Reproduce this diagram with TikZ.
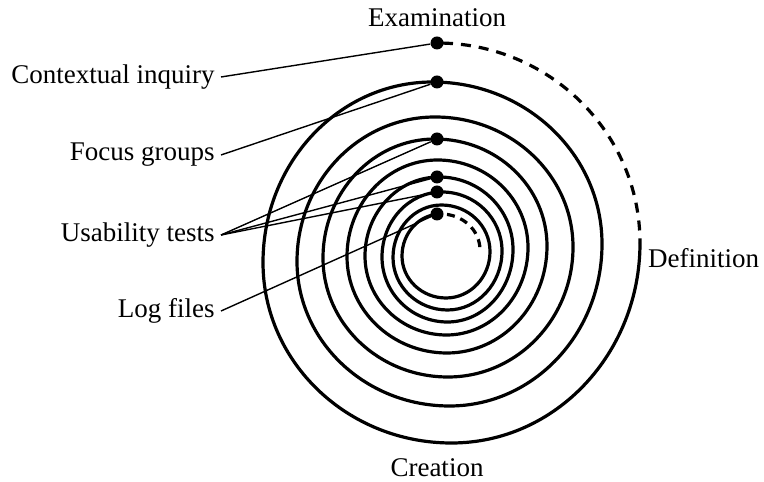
\documentclass[tikz,border=0pt]{standalone}
\usepackage{fontspec}
\setmainfont{Liberation Serif}
\usetikzlibrary{positioning}

\begin{document}
\begin{tikzpicture}[x=0.5pt, y=0.5pt, font=\fontsize{13.5}{16}\selectfont,
      ring/.style={line width=1.6pt},
      ringdash/.style={line width=1.6pt, dash pattern=on 5pt off 4pt},
      stop/.style={circle, fill=black, inner sep=0pt, minimum size=6.5pt},
      lbl/.style={anchor=east, inner sep=3pt},
      lead/.style={line width=0.7pt}
    ]
    \useasboundingbox (0,0) rectangle (764,481);

    % stops on the spiral (top of each turn)
    \node[stop] (s0) at (437,438) {};
    \node[stop] (s1) at (437,399) {};
    \node[stop] (s2) at (437,342) {};
    \node[stop] (s3) at (437,304) {};
    \node[stop] (s4) at (437,289) {};
    \node[stop] (s5) at (437,267) {};

    % outer dashed quarter, then the solid spiral inwards
    \draw[ringdash, dash phase=-3pt] (s0.center)
      arc[start angle=90, end angle=0, x radius=203, y radius=200];
    \draw[ring] (640,238)
      \foreach \ra/\rb/\rc/\rd/\re in {188.5/200/180.5/169.5/162,
          152.5/162/144.5/138/130, 125/130/119/112/107,
          100/107/96.5/90.5/87.5, 81.5/87.5/79/74/72.5,
          65.5/72.5/65/60/59, 54.5/59/52.5/48.5/46.5}{
        arc[start angle=0, end angle=-90, x radius=\ra, y radius=\rb]
        arc[start angle=-90, end angle=-180, x radius=\ra, y radius=\rc]
        arc[start angle=180, end angle=90, x radius=\rd, y radius=\rc]
        arc[start angle=90, end angle=0, x radius=\rd, y radius=\re]
      }
      arc[start angle=0, end angle=-90, x radius=44, y radius=46.5]
      arc[start angle=-90, end angle=-180, x radius=44, y radius=42]
      arc[start angle=180, end angle=90, x radius=39, y radius=42]
      coordinate (in8);
    \draw[line width=1.6pt, dash pattern=on 4pt off 3pt, dash phase=-3pt] (in8)
      arc[start angle=90, end angle=0, x radius=39, y radius=36];

    % labels
    \node[above=1pt of s0] (exam) {Examination};
    \node[anchor=west] (defn) at (641,223) {Definition};
    \node (crea) at (437,13) {Creation};
    \node[lbl] (ctx) at (221,404) {Contextual inquiry};
    \node[lbl] (focus) at (221,326) {Focus groups};
    \node[lbl] (usab) at (221,246) {Usability tests};
    \node[lbl] (logf) at (221,170) {Log files};

    \draw[lead] (ctx.east) -- (s0);
    \draw[lead] (focus.east) -- (s1);
    \draw[lead] (usab.east) -- (s2);
    \draw[lead] (usab.east) -- (s3);
    \draw[lead] (usab.east) -- (s4);
    \draw[lead] (logf.east) -- (s5);
  \end{tikzpicture}
\end{document}
